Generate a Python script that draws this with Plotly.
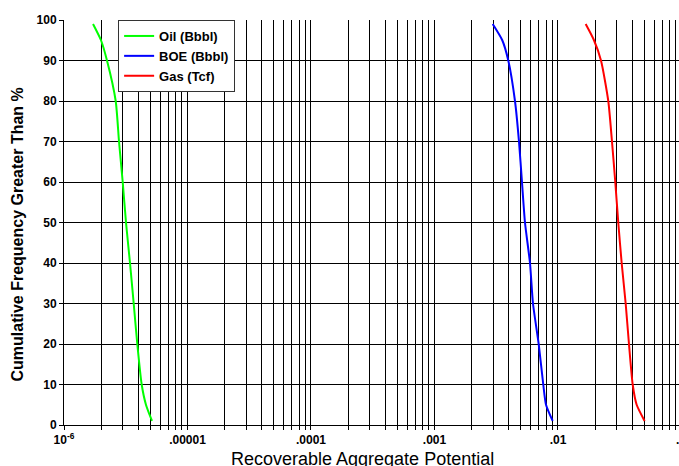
import plotly.graph_objects as go

freq = [99, 95, 90, 80, 70, 60, 50, 40, 30, 20, 10, 5, 1]
oil = [1.718e-6, 1.993e-6, 2.229e-6, 2.622e-6, 2.789e-6, 2.988e-6, 3.177e-6,
       3.423e-6, 3.668e-6, 3.922e-6, 4.257e-6, 4.61e-6, 5.16e-6]
boe = [2.96e-3, 3.54e-3, 3.96e-3, 4.486e-3, 4.834e-3, 5.11e-3, 5.405e-3,
       5.934e-3, 6.275e-3, 6.98e-3, 7.60e-3, 8.0e-3, 9.06e-3]
gas = [1.676e-2, 1.957e-2, 2.23e-2, 2.555e-2, 2.737e-2, 2.911e-2, 3.078e-2,
       3.279e-2, 3.533e-2, 3.757e-2, 4.027e-2, 4.337e-2, 5.03e-2]

decades = [1e-6, 1e-5, 1e-4, 1e-3, 1e-2, 1e-1]
decade_labels = ["10<sup>-6</sup>", ".00001", ".0001", ".001", ".01", ".1"]
y_ticks = [0, 10, 20, 30, 40, 50, 60, 70, 80, 90, 100]

tickvals, ticktext = [], []
for d, lab in zip(decades, decade_labels):
    tickvals.append(d)
    ticktext.append(lab)
    if d < 0.1:
        for m in range(2, 10):
            tickvals.append(d * m)
            ticktext.append("")

fig = go.Figure()
for xs, name, col in [(oil, "Oil (Bbbl)", "#00ff00"),
                      (boe, "BOE (Bbbl)", "#0000ff"),
                      (gas, "Gas (Tcf)", "#ff0000")]:
    fig.add_trace(go.Scatter(x=xs, y=freq, mode="lines", name=name,
                             line=dict(color=col, width=2, shape="spline", smoothing=0.6)))

tickfont = dict(size=12, family="Liberation Sans, Arial", weight="bold")
x_lo, x_hi = -6, -1.02

fig.update_layout(
    width=679, height=466,
    margin=dict(l=64, r=0, t=20, b=41),
    paper_bgcolor="white", plot_bgcolor="white",
    font=dict(family="Liberation Sans, Arial, sans-serif", color="black"),
    xaxis=dict(
        type="log", range=[x_lo, x_hi], automargin=False,
        tickmode="array", tickvals=tickvals, ticktext=ticktext,
        showgrid=True, gridcolor="black", gridwidth=1,
        showline=True, linecolor="black", linewidth=1,
        ticks="outside", ticklen=4, tickcolor="black",
        tickfont=tickfont,
        zeroline=False,
    ),
    yaxis=dict(
        range=[0, 100], tickvals=y_ticks, automargin=False,
        showgrid=True, gridcolor="black", gridwidth=1,
        showline=True, linecolor="black", linewidth=1,
        ticks="outside", ticklen=4, tickcolor="black",
        tickfont=tickfont,
        zeroline=False,
    ),
    legend=dict(
        x=0.088, y=1.0, xanchor="left", yanchor="top",
        bgcolor="white", bordercolor="#333333", borderwidth=1,
        font=dict(size=13, weight="bold"),
        tracegroupgap=0, itemwidth=30,
    ),
    annotations=[
        dict(text="Cumulative Frequency Greater Than %", textangle=-90,
             xref="paper", yref="paper", x=-0.075, y=0.47,
             xanchor="center", yanchor="middle", showarrow=False,
             font=dict(size=16, weight="bold")),
        dict(text="Recoverable Aggregate Potential",
             xref="paper", yref="paper", x=0.486, y=0, yshift=-34,
             xanchor="center", yanchor="middle", showarrow=False,
             font=dict(size=18)),
        dict(text=".1", xref="paper", yref="paper",
             x=(-1 - x_lo) / (x_hi - x_lo), y=0, yshift=-6,
             xanchor="center", yanchor="top", showarrow=False,
             font=tickfont),
    ],
    showlegend=True,
)

fig.write_html("out.html", config={"displayModeBar": False},
               post_script="document.body.style.margin='0px';document.body.style.overflow='hidden';")
